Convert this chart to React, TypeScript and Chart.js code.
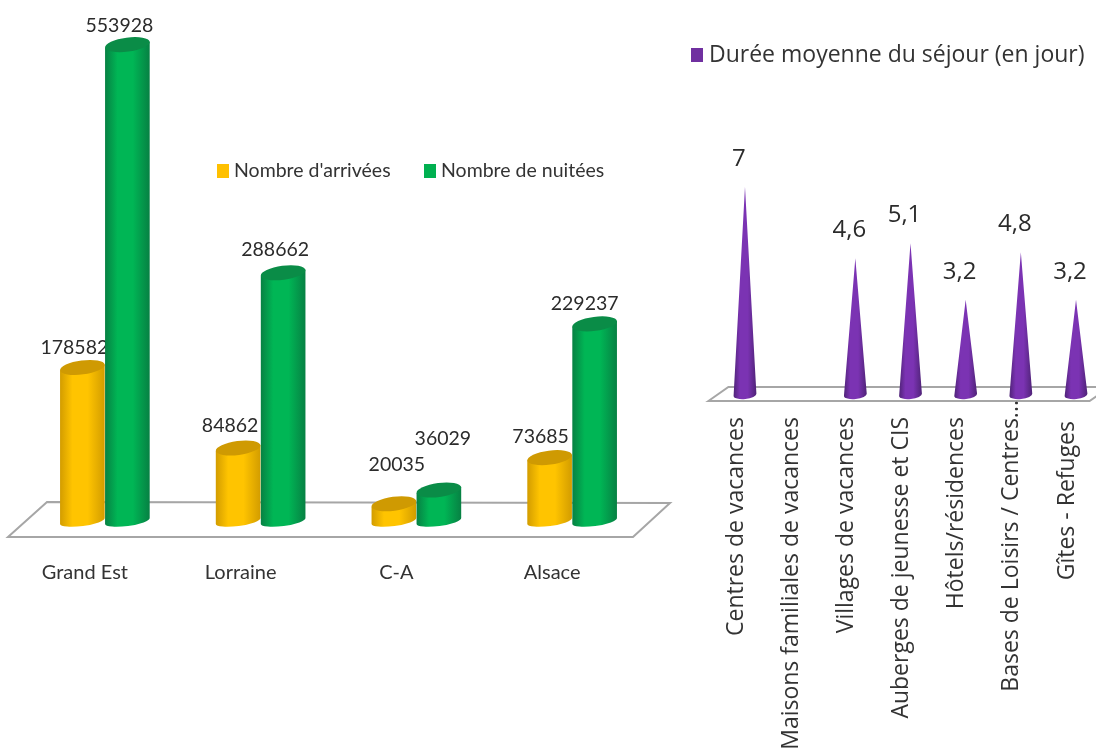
import React, { useEffect, useRef } from "react";
import { Chart, registerables } from "chart.js";

Chart.register(...registerables);

const regions = ["Grand Est", "Lorraine", "C-A", "Alsace"];
const arrivals = [178582, 84862, 20035, 73685];
const nights = [553928, 288662, 36029, 229237];

const lodgings = [
  "Centres de vacances",
  "Maisons familiales de vacances",
  "Villages de vacances",
  "Auberges de jeunesse et CIS",
  "Hôtels/résidences",
  "Bases de Loisirs / Centres...",
  "Gîtes - Refuges",
];
const stays = [7, null, 4.6, 5.1, 3.2, 4.8, 3.2];

const LEFT_FONT = "Lato, sans-serif";
const RIGHT_FONT = "'Open Sans', sans-serif";
const TEXT = "#333333";

function floorPlugin(pts: (a: any) => number[][]) {
  return {
    id: "floor",
    beforeDatasetsDraw(chart: any) {
      const { ctx, chartArea } = chart;
      const p = pts(chartArea);
      ctx.save();
      ctx.beginPath();
      p.forEach((q, i) => (i ? ctx.lineTo(q[0], q[1]) : ctx.moveTo(q[0], q[1])));
      ctx.closePath();
      ctx.fillStyle = "#ffffff";
      ctx.fill();
      ctx.strokeStyle = "#a6a6a6";
      ctx.lineWidth = 2;
      ctx.stroke();
      ctx.restore();
    },
  };
}

function legendPlugin(x: number[], y: number, boxW: number, boxH: number, gap: number, font: string) {
  return {
    id: "floatLegend",
    afterDraw(chart: any) {
      const { ctx } = chart;
      ctx.save();
      ctx.font = font;
      ctx.textBaseline = "middle";
      ctx.textAlign = "left";
      chart.data.datasets.forEach((d: any, i: number) => {
        ctx.fillStyle = d.backgroundColor;
        ctx.fillRect(x[i], y - boxH / 2, boxW, boxH);
        ctx.fillStyle = TEXT;
        ctx.fillText(d.label, x[i] + boxW + gap, y);
      });
      ctx.restore();
    },
  };
}

const TILT = -0.13;

function sideGradient(ctx: any, left: number, right: number, edge: string, mid: string) {
  const g = ctx.createLinearGradient(left, 0, right, 0);
  g.addColorStop(0, edge);
  g.addColorStop(0.28, mid);
  g.addColorStop(0.62, mid);
  g.addColorStop(1, edge);
  return g;
}

function drawCylinder(ctx: any, bar: any, edge: string, mid: string, cap: string) {
  const rx = bar.width / 2;
  const ryTop = 7;
  const ryBase = 5;
  const dx = rx * Math.cos(TILT);
  const dy = rx * Math.sin(TILT);
  ctx.beginPath();
  ctx.moveTo(bar.x - dx, bar.y - dy);
  ctx.lineTo(bar.x - dx, bar.base - dy);
  ctx.ellipse(bar.x, bar.base, rx, ryBase, TILT, Math.PI, 0, true);
  ctx.lineTo(bar.x + dx, bar.y + dy);
  ctx.closePath();
  ctx.fillStyle = sideGradient(ctx, bar.x - rx, bar.x + rx, edge, mid);
  ctx.fill();
  ctx.beginPath();
  ctx.ellipse(bar.x, bar.y, rx, ryTop, TILT, 0, Math.PI * 2);
  ctx.fillStyle = cap;
  ctx.fill();
}

function drawCone(ctx: any, bar: any, edge: string, mid: string) {
  const rx = bar.width / 2;
  const ry = 4;
  const dx = rx * Math.cos(-0.1);
  const dy = rx * Math.sin(-0.1);
  ctx.beginPath();
  ctx.moveTo(bar.x, bar.y);
  ctx.lineTo(bar.x - dx, bar.base - dy);
  ctx.ellipse(bar.x, bar.base, rx, ry, -0.1, Math.PI, 0, true);
  ctx.closePath();
  ctx.fillStyle = sideGradient(ctx, bar.x - rx, bar.x + rx, edge, mid);
  ctx.fill();
}

const cylinderLook: Record<number, string[]> = {
  0: ["#d29c00", "#ffc400", "#cf9a02"],
  1: ["#078043", "#00b655", "#0a8c47"],
};

// Hand nudges for the value labels of each group [x, y] relative to the bar top.
const regionNudge = [[-8, -20], [-8, -22], [3, -39], [-9, -21]];
const regionNudgeGreen = [[-8, -19], [-8, -23], [4, -51], [-10, -20]];
// Vertical shift of the rotated tick labels that sit off the common line.
const tickNudge = [0, 0, 0, 0, 0, -17, 4];

const cylindersPlugin = {
  id: "cylinders",
  beforeDatasetDraw: () => false,
  afterDatasetsDraw(chart: any) {
    const { ctx } = chart;
    ctx.save();
    ctx.font = `19.5px ${LEFT_FONT}`;
    ctx.fillStyle = "#2b2b2b";
    ctx.textAlign = "center";
    ctx.textBaseline = "middle";
    chart.data.datasets.forEach((d: any, di: number) => {
      chart.getDatasetMeta(di).data.forEach((bar: any, i: number) => {
        const n = (di === 0 ? regionNudge : regionNudgeGreen)[i];
        ctx.fillText(String(d.data[i]), bar.x + n[0], bar.y + n[1]);
      });
    });
    chart.data.datasets.forEach((_: any, di: number) => {
      const look = cylinderLook[di];
      chart.getDatasetMeta(di).data.forEach((bar: any) => drawCylinder(ctx, bar, look[0], look[1], look[2]));
    });
    ctx.restore();
  },
};

const conesPlugin = {
  id: "cones",
  beforeDraw(chart: any) {
    const items = chart.scales.x.getLabelItems(chart.chartArea);
    items.forEach((item: any, i: number) => {
      const t = item.options.translation;
      item.options.translation = [t[0], t[1] + tickNudge[i]];
    });
  },
  beforeDatasetDraw: () => false,
  afterDatasetsDraw(chart: any) {
    const { ctx } = chart;
    ctx.save();
    ctx.font = `24px ${RIGHT_FONT}`;
    ctx.textAlign = "center";
    ctx.textBaseline = "middle";
    const d = chart.data.datasets[0];
    chart.getDatasetMeta(0).data.forEach((bar: any, i: number) => {
      const v = d.data[i];
      if (v === null) return;
      drawCone(ctx, bar, "#4f2377", "#7b33b3");
      ctx.fillStyle = "#2b2b2b";
      ctx.fillText(String(v).replace(".", ","), bar.x - 6, bar.y - 28);
    });
    ctx.restore();
  },
};

const noSidePadding = (height: number) => (s: any) => {
  s.height = height;
  s.paddingLeft = 0;
  s.paddingRight = 0;
};

export default function App() {
  const leftRef = useRef<HTMLCanvasElement>(null);
  const rightRef = useRef<HTMLCanvasElement>(null);

  useEffect(() => {
    const left = new Chart(leftRef.current!, {
      type: "bar",
      data: {
        labels: regions,
        datasets: [
          { label: "Nombre d'arrivées", data: arrivals, backgroundColor: "#ffc000" },
          { label: "Nombre de nuitées", data: nights, backgroundColor: "#00b050" },
        ],
      },
      options: {
        responsive: false,
        animation: false,
        events: [],
        layout: { padding: { left: 27, right: 30, top: 5, bottom: 0 } },
        datasets: { bar: { categoryPercentage: 0.578, barPercentage: 1 } },
        plugins: { legend: { display: false }, tooltip: { enabled: false } },
        scales: {
          y: { display: false, min: 0, max: 600000 },
          x: {
            grid: { display: false },
            border: { display: false },
            afterFit: noSidePadding(228),
            ticks: { padding: 32, labelOffset: -20, color: TEXT, font: { family: LEFT_FONT, size: 20 } },
          },
        },
      },
      plugins: [
        floorPlugin((a) => [
          [a.left - 19, a.bottom + 16],
          [a.left + 20, a.bottom - 19],
          [a.right + 20, a.bottom - 18],
          [a.right - 17, a.bottom + 16],
        ]),
        cylindersPlugin,
        legendPlugin([217, 424], 171, 12, 14, 5, `19.5px ${LEFT_FONT}`),
      ],
    } as any);

    const right = new Chart(rightRef.current!, {
      type: "bar",
      data: {
        labels: lodgings,
        datasets: [
          { label: "Durée moyenne du séjour (en jour)", data: stays, backgroundColor: "#7030a0" },
        ],
      },
      options: {
        responsive: false,
        animation: false,
        events: [],
        layout: { padding: { left: 37.4, right: 0.4, top: 157, bottom: 0 } },
        datasets: { bar: { categoryPercentage: 1, barPercentage: 0.416 } },
        plugins: { legend: { display: false }, tooltip: { enabled: false } },
        scales: {
          y: { display: false, min: 0, max: 8 },
          x: {
            grid: { display: false },
            border: { display: false },
            afterFit: noSidePadding(354),
            ticks: {
              autoSkip: false,
              padding: 14,
              labelOffset: -9,
              minRotation: 90,
              maxRotation: 90,
              z: 1,
              color: TEXT,
              font: { family: RIGHT_FONT, size: 23 },
            },
          },
        },
      },
      plugins: [
        floorPlugin((a) => [
          [a.left - 9, a.bottom + 6],
          [a.left + 11, a.bottom - 8],
          [a.right + 6, a.bottom - 8],
          [a.right - 14, a.bottom + 6],
        ]),
        conesPlugin,
        legendPlugin([11], 55, 12, 14, 6, `23px ${RIGHT_FONT}`),
      ],
    } as any);

    return () => {
      left.destroy();
      right.destroy();
    };
  }, []);

  return (
    <div style={{ position: "fixed", left: 0, top: 0, width: 1096, height: 749, overflow: "hidden", background: "#fff" }}>
      <canvas ref={leftRef} width={680} height={749} style={{ position: "absolute", left: 0, top: 0 }} />
      <canvas ref={rightRef} width={424} height={749} style={{ position: "absolute", left: 680, top: 0 }} />
    </div>
  );
}
